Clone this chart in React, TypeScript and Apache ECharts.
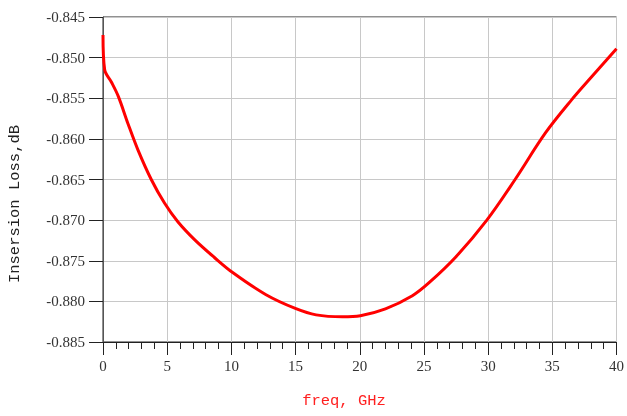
import React, { useEffect, useRef } from "react";
import * as echarts from "echarts";

const freqGHz = [0, 0.13, 0.65, 1.2, 1.94, 2.72, 3.76, 4.79, 5.83, 7.13, 8.68, 10.1, 12.7, 15.03, 16.6, 18.65, 20.05, 22.0, 24.1, 25.4, 27.5, 29.9, 32.1, 34.45, 36.5, 38.1, 40.0];
const lossDb = [-0.8472, -0.8515, -0.853, -0.8548, -0.8581, -0.86135, -0.865, -0.8679, -0.8702, -0.8724, -0.8746, -0.87645, -0.87918, -0.8809, -0.88166, -0.88189, -0.88176, -0.88092, -0.8793, -0.8777, -0.8745, -0.8700, -0.865, -0.8593, -0.8552, -0.8523, -0.8489];

const xTitle = "freq, GHz";
const yTitle = "Insersion Loss,dB";

export default function App() {
  const ref = useRef<HTMLDivElement>(null);
  useEffect(() => {
    if (!ref.current) return;
    const chart = echarts.init(ref.current, undefined, { renderer: "svg" });
    const data = freqGHz.map((f, i) => [f, lossDb[i]]);
    chart.setOption({
      animation: false,
      grid: {
        left: 103,
        right: 8,
        top: 17,
        bottom: 74,
        show: true,
        borderColor: "#222",
        borderWidth: 1,
        backgroundColor: "transparent",
      },
      xAxis: {
        type: "value",
        min: 0,
        max: 40,
        interval: 5,
        axisLine: { show: true, lineStyle: { color: "#222", width: 1 } },
        axisTick: { show: true, length: 13, lineStyle: { color: "#222" } },
        minorTick: { show: true, splitNumber: 5, length: 7, lineStyle: { color: "#222" } },
        splitLine: { show: true, lineStyle: { color: "#c8c8c8", width: 1 } },
        axisLabel: {
          margin: 16,
          fontFamily: "Liberation Serif",
          fontSize: 15,
          color: "#333",
        },
      },
      yAxis: {
        type: "value",
        min: -0.885,
        max: -0.845,
        interval: 0.005,
        axisLine: { show: true, lineStyle: { color: "#555", width: 1 } },
        axisTick: { show: true, length: 14, lineStyle: { color: "#222" } },
        splitLine: { show: true, lineStyle: { color: "#c8c8c8", width: 1 } },
        axisLabel: {
          margin: 18,
          fontFamily: "Liberation Serif",
          fontSize: 15,
          color: "#333",
          formatter: (v: number) => v.toFixed(3),
        },
      },
      graphic: [
        {
          type: "text",
          x: 344,
          y: 401,
          style: {
            text: xTitle,
            fill: "#ff2020",
            font: "15.5px 'Liberation Mono'",
            textAlign: "center",
            textVerticalAlign: "middle",
          },
        },
        {
          type: "text",
          x: 15,
          y: 204,
          rotation: Math.PI / 2,
          style: {
            text: yTitle,
            fill: "#222",
            font: "15.5px 'Liberation Mono'",
            textAlign: "center",
            textVerticalAlign: "middle",
          },
        },
      ],
      series: [
        {
          type: "line",
          data,
          smooth: 0.35,
          showSymbol: false,
          symbol: "none",
          lineStyle: { color: "#ff0000", width: 3 },
        },
      ],
    });
    return () => chart.dispose();
  }, []);
  return <div ref={ref} style={{ width: 627, height: 416, position: "fixed", left: 0, top: 0 }} />;
}
